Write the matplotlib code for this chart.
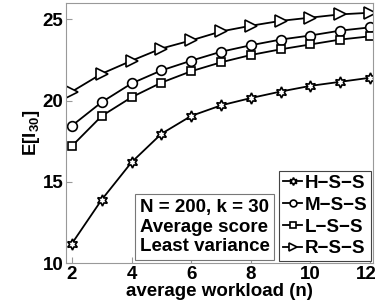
import matplotlib
matplotlib.use("Agg")
import matplotlib.pyplot as plt
import matplotlib.transforms as mtransforms

plt.rcParams['font.family'] = ['Liberation Sans', 'DejaVu Sans']
plt.rcParams['font.weight'] = 'bold'
plt.rcParams['mathtext.default'] = 'bf'
plt.rcParams['mathtext.fontset'] = 'custom'
plt.rcParams['mathtext.bf'] = 'Liberation Sans:bold'

workload = [2, 3, 4, 5, 6, 7, 8, 9, 10, 11, 12]
hss = [11.2, 13.9, 16.2, 17.95, 19.05, 19.7, 20.15, 20.55, 20.9, 21.15, 21.4]
mss = [18.45, 19.9, 21.05, 21.85, 22.45, 23.0, 23.4, 23.75, 24.0, 24.3, 24.5]
lss = [17.2, 19.05, 20.2, 21.1, 21.8, 22.35, 22.8, 23.15, 23.45, 23.75, 23.95]
rss = [20.55, 21.65, 22.45, 23.2, 23.7, 24.25, 24.6, 24.9, 25.1, 25.3, 25.4]
labels = ['H\u2212S\u2212S', 'M\u2212S\u2212S', 'L\u2212S\u2212S', 'R\u2212S\u2212S']
xticks = [2, 4, 6, 8, 10, 12]
yticks = [10, 15, 20, 25]

fig = plt.figure(figsize=(3.78, 3.06), dpi=100)
ax = fig.add_axes([66/378, 1-263/306, (373-66)/378, (263-3)/306])

style = dict(color='black', lw=1.3, mfc='white', mec='black', mew=1.2)
ax.plot(workload, hss, marker=(6, 1, 0), ms=8, label=labels[0], **style)
ax.plot(workload, mss, marker='o', ms=7, label=labels[1], **style)
ax.plot(workload, lss, marker='s', ms=6, label=labels[2], **style)
ax.plot(workload, rss, marker='>', ms=8, label=labels[3], **style)

ax.set_xlim(1.8, 12.1)
ax.set_ylim(10, 26)
ax.set_xticks(xticks)
ax.set_yticks(yticks)
ax.tick_params(direction='in', labelsize=13.5, length=4, color='#999999', pad=2)
for lab in ax.get_xticklabels() + ax.get_yticklabels():
    lab.set_fontweight('bold')
for s in ax.spines.values():
    s.set_color('#999999')

# nudge the last x tick label so it stays inside the figure
last = ax.get_xticklabels()[-1]
last.set_transform(last.get_transform() +
                   mtransforms.ScaledTranslation(-4/100, 0, fig.dpi_scale_trans))

ax.set_xlabel('average workload (n)', fontsize=13.5, fontweight='bold', labelpad=0)
ax.set_ylabel('E[I$_{30}$]', fontsize=13.5, fontweight='bold', labelpad=0)

leg = ax.legend(loc='lower right', fontsize=13.5, handlelength=1.0, handletextpad=0.15,
                borderpad=0.2, labelspacing=0.25, fancybox=False, framealpha=1,
                borderaxespad=0.1, markerscale=0.7)
leg.get_frame().set_edgecolor('#444444')
leg.get_frame().set_linewidth(0.8)
for t in leg.get_texts():
    t.set_fontweight('bold')

ax.text(0.24, 0.03, 'N = 200, k = 30\nAverage score\nLeast variance',
        transform=ax.transAxes, fontsize=13.5, fontweight='bold', va='bottom', ha='left',
        linespacing=1.2,
        bbox=dict(boxstyle='square,pad=0.25', fc='white', ec='#777777', lw=0.8))

fig.savefig('out.png', dpi=100)
